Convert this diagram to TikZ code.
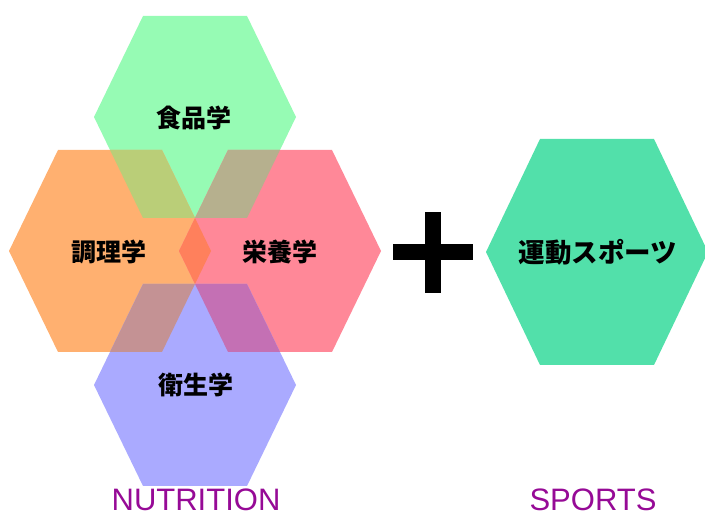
\documentclass[tikz,border=0pt]{standalone}
\usepackage{fontspec}
\newfontfamily\cjk{Noto Sans CJK JP}
\newfontfamily\lat{Liberation Sans}
\definecolor{hgreen}{RGB}{150,251,180}
\definecolor{horange}{RGB}{255,176,112}
\definecolor{hpink}{RGB}{255,136,152}
\definecolor{hblue}{RGB}{170,170,255}
\definecolor{hsport}{RGB}{82,224,170}
\definecolor{ogo}{RGB}{186,206,120}
\definecolor{ogp}{RGB}{182,176,142}
\definecolor{oop}{RGB}{255,128,92}
\definecolor{obo}{RGB}{196,146,148}
\definecolor{obp}{RGB}{196,112,180}
\definecolor{tpurple}{RGB}{150,10,150}
% hexagon path: center x, center y, half width, top half width, half height
\newcommand{\hexp}[5]{(#1-#3,#2) -- (#1-#4,#2-#5) -- (#1+#4,#2-#5) -- (#1+#3,#2) -- (#1+#4,#2+#5) -- (#1-#4,#2+#5) -- cycle}
\tikzset{
  jlabel/.style={font=\cjk\bfseries\fontsize{25}{30}\selectfont, text=black, inner sep=0pt},
  elabel/.style={font=\lat\fontsize{31}{36}\selectfont, text=tpurple, inner sep=0pt},
}
\begin{document}
\begin{tikzpicture}[x=1pt,y=-1pt]
\useasboundingbox (0,0) rectangle (705,518);
% hexagons
\fill[hgreen]  \hexp{195}{117}{101}{52}{101};
\fill[horange] \hexp{110}{251}{101}{52}{101};
\fill[hpink]   \hexp{280}{251}{101}{52}{101};
\fill[hblue]   \hexp{195}{385}{101}{52}{101};
\fill[hsport]  \hexp{597}{252}{111}{57}{113};
% overlaps
\begin{scope}\clip \hexp{195}{117}{101}{52}{101};
  \fill[ogo] \hexp{110}{251}{101}{52}{101};
  \fill[ogp] \hexp{280}{251}{101}{52}{101};
\end{scope}
\begin{scope}\clip \hexp{195}{385}{101}{52}{101};
  \fill[obo] \hexp{110}{251}{101}{52}{101};
  \fill[obp] \hexp{280}{251}{101}{52}{101};
\end{scope}
\begin{scope}\clip \hexp{110}{251}{101}{52}{101};
  \fill[oop] \hexp{280}{251}{101}{52}{101};
\end{scope}
% plus sign
\fill[black] (393,244) rectangle (473,260);
\fill[black] (425,212) rectangle (441,293);
% labels
\node[jlabel] (food) at (194,118) {食品学};
\node[jlabel] (cook) at (109,252) {調理学};
\node[jlabel] (nutr) at (280,252) {栄養学};
\node[jlabel] (hyg)  at (196,385) {衛生学};
\node[jlabel, font=\cjk\bfseries\fontsize{26.5}{30}\selectfont] (sport) at (598,252) {運動スポーツ};
\node[elabel, anchor=base] (nutrition) at (196,511) {NUTRITION};
\node[elabel, anchor=base] (sports) at (593,511) {SPORTS};
\end{tikzpicture}
\end{document}
